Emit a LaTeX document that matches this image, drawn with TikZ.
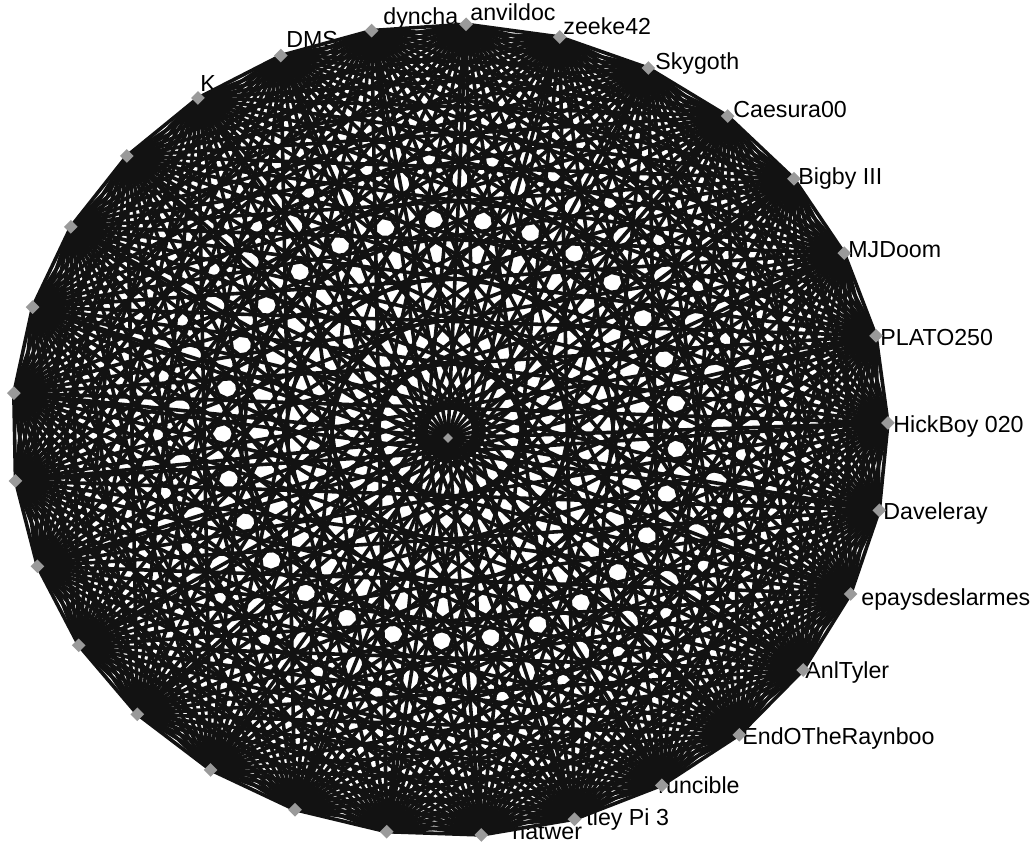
\documentclass[tikz,border=0pt]{standalone}
\usepackage{fontspec}
\setmainfont{Liberation Sans}
\usetikzlibrary{shapes.geometric}
\definecolor{webInk}{HTML}{121212}
\definecolor{webMark}{HTML}{9A9A9A}
\tikzset{
  tie/.style={draw=webInk,line width=1.8pt},
  dotmark/.style={diamond,fill=webMark,inner sep=0pt,minimum size=7pt},
  lbl/.style={anchor=base west,inner sep=0pt,font=\fontsize{11.6}{13}\selectfont},
}

\begin{document}
\begin{tikzpicture}[x=0.5pt,y=0.5pt]
  \useasboundingbox (0,0) rectangle (1035,845);
  % user labels (drawn first, the web covers the ones on the left)
  \node[lbl] (l0) at (893,412) {HickBoy 020};
  \node[lbl] (l1) at (880,499) {PLATO250};
  \node[lbl] (l2) at (848,587) {MJDoom};
  \node[lbl] (l3) at (798,660) {Bigby III};
  \node[lbl] (l4) at (733,727) {Caesura00};
  \node[lbl] (l5) at (655,775) {Skygoth};
  \node[lbl] (l6) at (563,810) {zeeke42};
  \node[lbl] (l7) at (470,824) {anvildoc};
  \node[lbl] (l8) at (383,820) {dyncha};
  \node[lbl] (l9) at (286,797) {DMS};
  \node[lbl] (l10) at (200,753) {K};
  \node[lbl] (l22) at (512,5) {hatwer};
  \node[lbl] (l23) at (586,19) {tley Pi 3};
  \node[lbl] (l24) at (658,51) {runcible};
  \node[lbl] (l25) at (742,100) {EndOTheRaynboo};
  \node[lbl] (l26) at (805,166) {AnlTyler};
  \node[lbl] (l27) at (861,239) {epaysdeslarmes};
  \node[lbl] (l28) at (883,325) {Daveleray};
  % 29 users on the ring, one in the middle
  \foreach \i in {0,...,28}
    \coordinate (n\i) at ({450+438*cos(1+\i*360/29)},{415+406*sin(1+\i*360/29)});
  \coordinate (hub) at (448,407);
  % every pair is linked
  \foreach \i in {0,...,28}{
    \foreach \j in {0,...,28}{
      \ifnum\i<\j \draw[tie] (n\i) -- (n\j); \fi
    }
    \draw[tie] (hub) -- (n\i);
  }
  \foreach \i in {0,...,28}
    \node[dotmark] (m\i) at (n\i) {};
  \node[dotmark,minimum size=5pt] (mhub) at (hub) {};
\end{tikzpicture}
\end{document}
